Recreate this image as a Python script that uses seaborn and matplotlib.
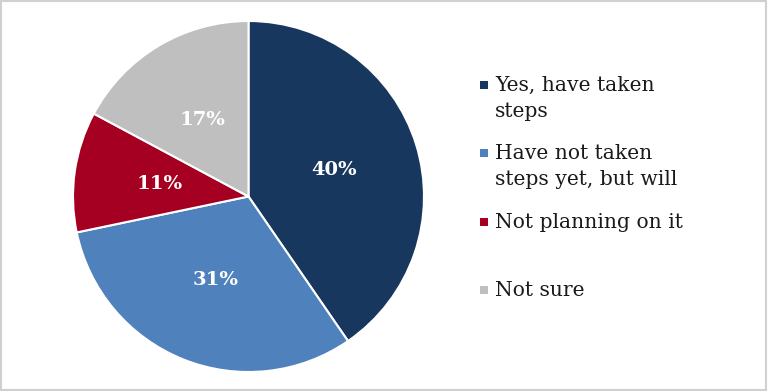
import matplotlib
matplotlib.use("Agg")
import matplotlib.pyplot as plt
import seaborn as sns
from matplotlib.patches import Rectangle

sns.set_theme(style="white")
plt.rcParams['font.family'] = ['DejaVu Serif']

# data
categories = ["Yes, have taken\nsteps", "Have not taken\nsteps yet, but will",
              "Not planning on it", "Not sure"]
shares = [40, 31, 11, 17]
slice_colors = ["#17375E", "#4F81BD", "#A50021", "#BFBFBF"]

fig = plt.figure(figsize=(7.68, 3.91), dpi=100)
ax = fig.add_axes([73 / 768, 19 / 391, 351 / 768, 351 / 391])

wedges, texts, autotexts = ax.pie(
    shares, colors=slice_colors, startangle=90, counterclock=False,
    autopct=lambda p: f"{p:.0f}%", pctdistance=0.51,
    wedgeprops=dict(edgecolor="white", linewidth=1.5),
    textprops=dict(color="white", fontsize=14, fontweight="bold"))
ax.set_aspect("equal")
ax.set_xlim(-1.0, 1.0)
ax.set_ylim(-1.0, 1.0)

# legend drawn by hand so the square sits on the first text line
leg_y = [85, 153, 222, 290]
for w, lab, y in zip(wedges, categories, leg_y):
    fy = 1 - y / 391
    fig.patches.append(Rectangle((480 / 768, fy - 4 / 391), 8 / 768, 8 / 391,
                                 transform=fig.transFigure,
                                 facecolor=w.get_facecolor(), edgecolor="none"))
    fig.text(495 / 768, fy + 9 / 391, lab, ha="left", va="top",
             fontsize=14.6, color="#1a1a1a", linespacing=1.45)

# light frame round the picture
fig.patches.append(Rectangle((0.001, 0.002), 0.997, 0.995, transform=fig.transFigure,
                             fill=False, edgecolor="#d0d0d0", linewidth=1.5))

fig.savefig("out.png", dpi=100)
